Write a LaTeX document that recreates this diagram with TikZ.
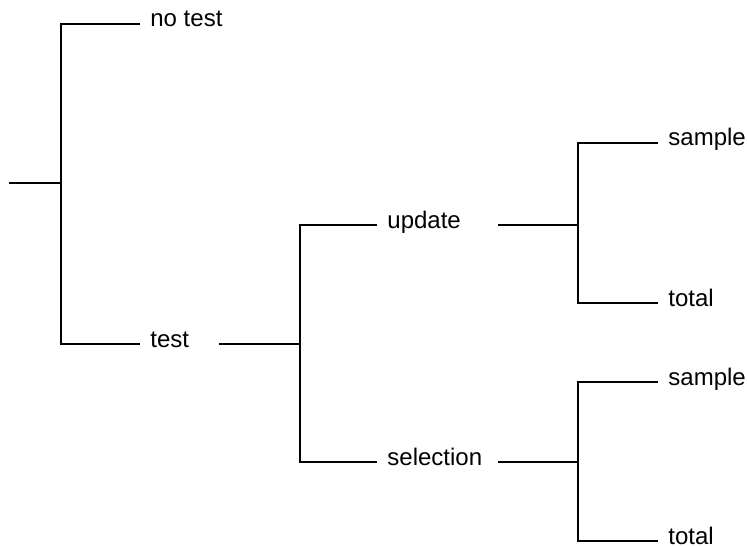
\documentclass[tikz,border=0pt]{standalone}
\usepackage{fontspec}
\setmainfont{Liberation Sans}
\tikzset{
  leaf/.style={anchor=west, inner xsep=5pt, inner ysep=0pt, text height=6pt, text depth=3pt, font=\fontsize{12}{14}\selectfont},
  branch/.style={line width=1pt, draw=black},
}

\begin{document}
\begin{tikzpicture}[x=0.5pt, y=-0.5pt]
    \useasboundingbox (0,0) rectangle (747,545);
    % first split
    \coordinate (root) at (9,183);
    \coordinate (fork0) at (61,183);
    \node[leaf] (notest) at (140,24) {no test};
    \node[leaf] (test) at (140,344) {test};
    % second split
    \coordinate (testout) at (219,344);
    \coordinate (fork1) at (300,344);
    \node[leaf] (update) at (377,225) {update};
    \node[leaf] (selection) at (377,462) {selection};
    % third split
    \coordinate (updout) at (498,225);
    \coordinate (fork2) at (578,225);
    \node[leaf] (updsample) at (658,143) {sample};
    \node[leaf] (updtotal) at (658,303) {total};
    \coordinate (selout) at (498,462);
    \coordinate (fork3) at (578,462);
    \node[leaf] (selsample) at (658,382) {sample};
    \node[leaf] (seltotal) at (658,541) {total};
    \draw[branch] (root) -- (fork0);
    \draw[branch] (notest.west) -| (fork0) |- (test.west);
    \draw[branch] (testout) -- (fork1);
    \draw[branch] (update.west) -| (fork1) |- (selection.west);
    \draw[branch] (updout) -- (fork2);
    \draw[branch] (updsample.west) -| (fork2) |- (updtotal.west);
    \draw[branch] (selout) -- (fork3);
    \draw[branch] (selsample.west) -| (fork3) |- (seltotal.west);
  \end{tikzpicture}
\end{document}
